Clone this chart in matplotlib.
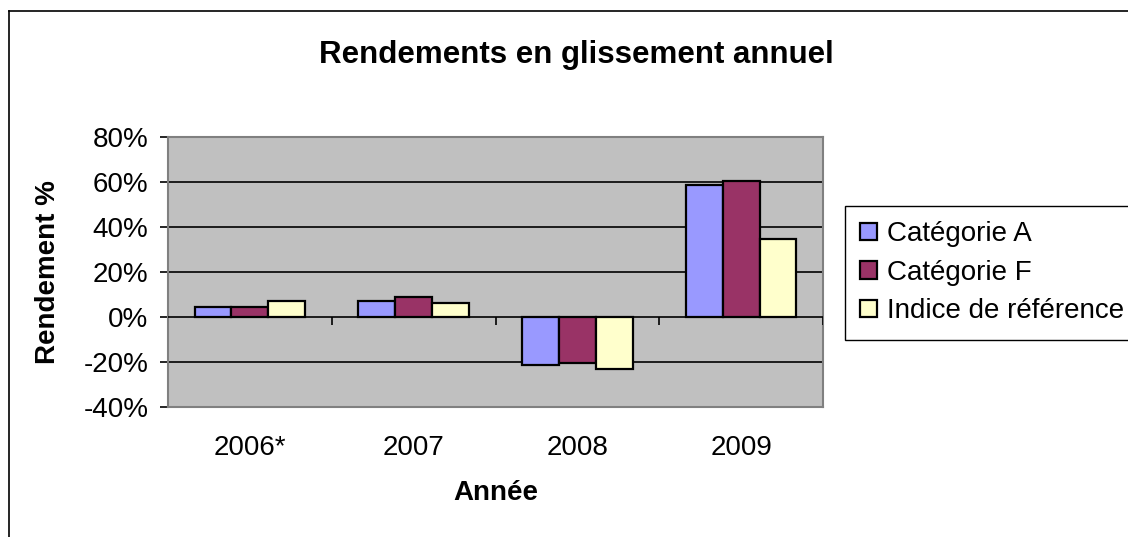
import numpy as np
import matplotlib.pyplot as plt
from matplotlib.lines import Line2D

plt.rcParams['font.family'] = ['Liberation Sans', 'DejaVu Sans']

# data
annees = ['2006*', '2007', '2008', '2009']
series = ['Catégorie A', 'Catégorie F', 'Indice de référence']
cat_a = [4.4, 7.1, -21.2, 58.5]
cat_f = [4.4, 8.9, -20.3, 60.4]
indice = [7.1, 6.4, -23.0, 34.8]
couleurs = ['#9999FF', '#993366', '#FFFFCC']
yticks = [-40, -20, 0, 20, 40, 60, 80]

fig = plt.figure(figsize=(11.28, 5.37), dpi=100)
ax = fig.add_axes([168/1128, 1 - 407/537, 655/1128, 270/537])
ax.set_facecolor('#C0C0C0')

x = np.arange(len(annees))
w = 0.225
for i, (vals, lab, c) in enumerate(zip([cat_a, cat_f, indice], series, couleurs)):
    ax.bar(x + (i - 1) * w, vals, w, color=c, edgecolor='black', linewidth=1.6,
           label=lab, zorder=3)

ax.set_xlim(-0.5, len(annees) - 0.5)
ax.set_ylim(yticks[0], yticks[-1])
ax.set_yticks(yticks)
ax.set_yticklabels([f'{t}%' for t in yticks], fontsize=20)
for t in yticks[1:-1]:
    if t != 0:
        ax.axhline(t, color='black', linewidth=1.2, zorder=1)

# category axis at zero with separators
ax.axhline(0, color='black', linewidth=1.2, zorder=4)
ax.vlines(np.arange(len(annees)) + 0.5, -3.6, 0, color='black', linewidth=1.2, zorder=4)

ax.set_xticks(x)
ax.set_xticklabels(annees, fontsize=20)
ax.tick_params(axis='x', length=0, pad=20)
ax.tick_params(axis='y', length=6, width=1.2, pad=8, color='black')
for s in ax.spines.values():
    s.set_color('#808080')
    s.set_linewidth(1.5)

ax.set_xlabel('Année', fontsize=20, fontweight='bold', labelpad=14)
ax.set_ylabel('Rendement %', fontsize=20, fontweight='bold', labelpad=16)
fig.text(576/1128, 1 - 55/537, 'Rendements en glissement annuel', fontsize=22.5,
         fontweight='bold', ha='center', va='center')

leg = fig.legend(loc='upper left', bbox_to_anchor=(845/1128, 1 - 206/537),
                 fontsize=20, handlelength=0.6, handleheight=0.6, handletextpad=0.35,
                 labelspacing=0.45, borderpad=0.55, borderaxespad=0, fancybox=False,
                 edgecolor='black', framealpha=1)
leg.get_frame().set_linewidth(1)

# outer chart border (right and bottom fall outside the picture)
fig.add_artist(Line2D([9/1128, 1], [1 - 11/537, 1 - 11/537], color='black', linewidth=1.2))
fig.add_artist(Line2D([9/1128, 9/1128], [0, 1 - 11/537], color='black', linewidth=1.2))

fig.savefig('out.png', dpi=100)
